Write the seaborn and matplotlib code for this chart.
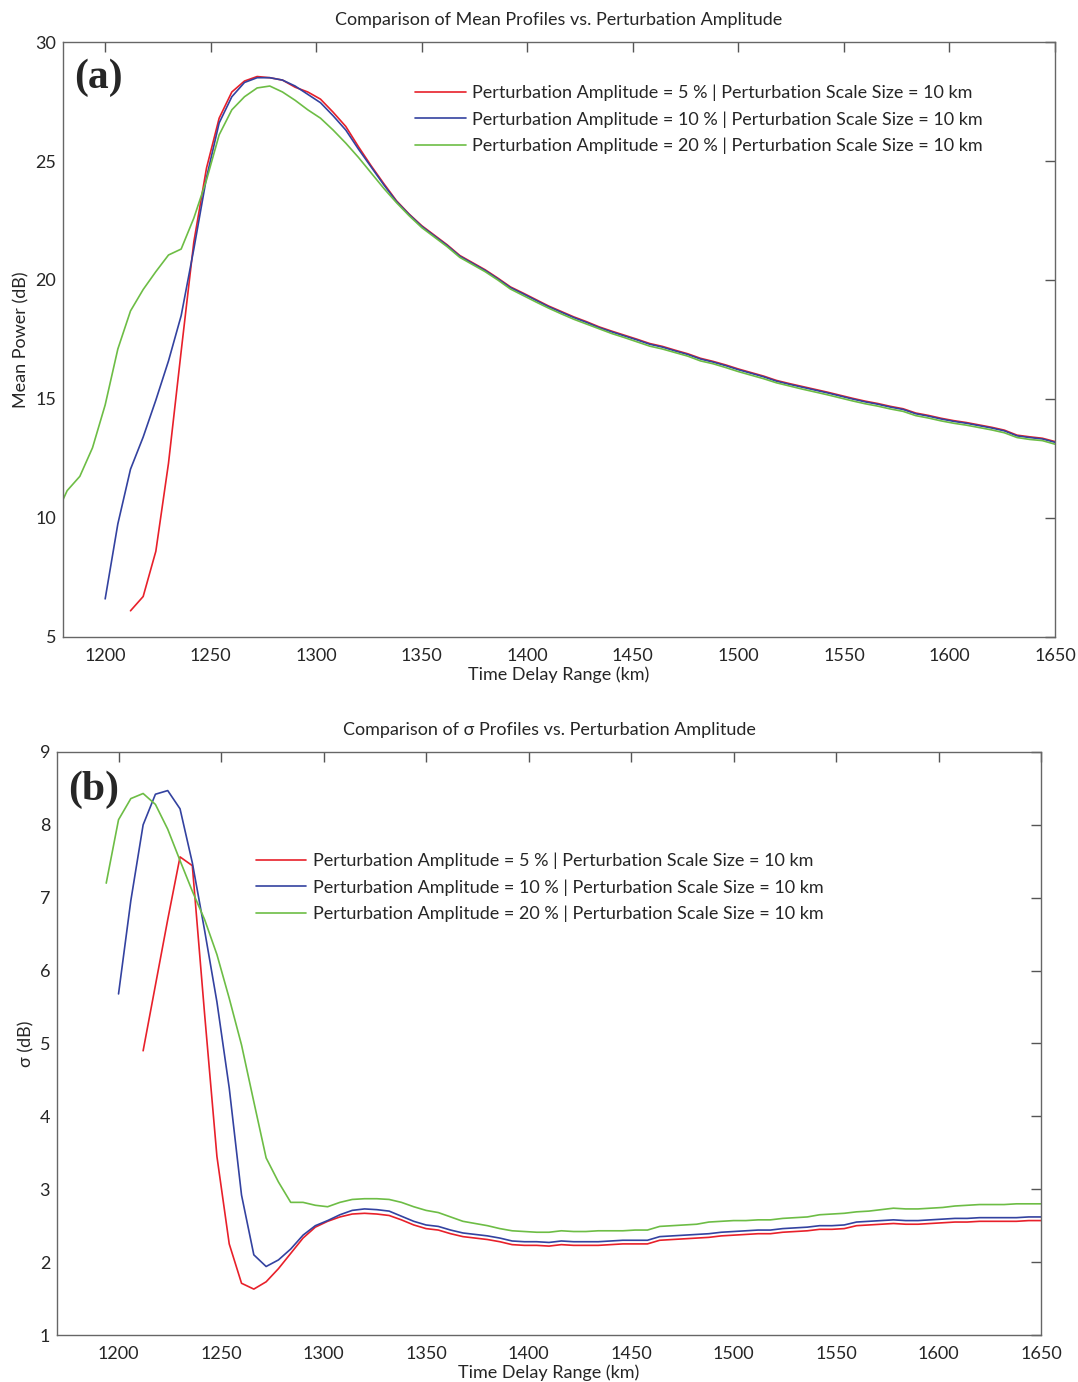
import numpy as np
import pandas as pd
import matplotlib
matplotlib.use("Agg")
import matplotlib.pyplot as plt
import seaborn as sns

# ---------------- data ----------------
STEP = 6  # km between samples
labels = [
    "Perturbation Amplitude = 5 % | Perturbation Scale Size = 10 km",
    "Perturbation Amplitude = 10 % | Perturbation Scale Size = 10 km",
    "Perturbation Amplitude = 20 % | Perturbation Scale Size = 10 km",
]
colors = ["#e8202a", "#3342a0", "#6dbd45"]

# panel (a) mean power (dB)
mean_red_start = 1212
mean_red = [6.1, 6.7, 8.6, 12.3,
            17.0, 21.6, 24.7, 26.8, 27.9, 28.36, 28.55, 28.5, 28.4, 28.1,
            27.9, 27.6, 27.05, 26.45, 25.6, 24.8, 24.05, 23.33, 22.77, 22.28,
            21.88, 21.48, 21.03, 20.73, 20.43, 20.08, 19.71, 19.45, 19.18, 18.91,
            18.68, 18.45, 18.25, 18.03, 17.85, 17.68, 17.51, 17.33, 17.21, 17.05,
            16.9, 16.71, 16.58, 16.43, 16.26, 16.11, 15.96, 15.78, 15.65, 15.53,
            15.41, 15.29, 15.16, 15.03, 14.91, 14.81, 14.69, 14.59, 14.41, 14.31,
            14.19, 14.09, 14.01, 13.91, 13.81, 13.69, 13.48, 13.41, 13.35, 13.21]
mean_blue_start = 1200
mean_blue = [6.6, 9.75, 12.05, 13.4, 14.95, 16.6,
             18.5, 21.3, 24.3, 26.6, 27.7, 28.3, 28.5, 28.5, 28.4, 28.15,
             27.8, 27.45, 26.9, 26.3, 25.5, 24.75, 24.0, 23.3, 22.75, 22.25,
             21.85, 21.45, 21.0, 20.7, 20.4, 20.05, 19.68, 19.42, 19.15, 18.88,
             18.65, 18.42, 18.22, 18.0, 17.82, 17.65, 17.48, 17.3, 17.18, 17.02,
             16.87, 16.68, 16.55, 16.4, 16.23, 16.08, 15.93, 15.75, 15.62, 15.5,
             15.38, 15.26, 15.13, 15.0, 14.88, 14.78, 14.66, 14.56, 14.38, 14.28,
             14.16, 14.06, 13.98, 13.88, 13.78, 13.66, 13.45, 13.38, 13.32, 13.18]
mean_green_start = 1176
mean_green = [10.0, 11.15, 11.75, 12.95, 14.75, 17.1, 18.7, 19.6, 20.35, 21.05,
              21.3, 22.6, 24.2, 26.1, 27.15, 27.7, 28.07, 28.15, 27.9, 27.55,
              27.15, 26.8, 26.3, 25.75, 25.15, 24.5, 23.85, 23.25, 22.7, 22.2,
              21.8, 21.4, 20.95, 20.65, 20.35, 20.0, 19.62, 19.35, 19.08, 18.82,
              18.58, 18.35, 18.15, 17.95, 17.75, 17.58, 17.4, 17.22, 17.1, 16.95,
              16.8, 16.6, 16.48, 16.32, 16.15, 16.0, 15.85, 15.68, 15.55, 15.42,
              15.3, 15.18, 15.05, 14.92, 14.8, 14.7, 14.58, 14.48, 14.3, 14.2,
              14.08, 13.98, 13.9, 13.8, 13.7, 13.58, 13.38, 13.3, 13.25, 13.1]

# panel (b) sigma (dB)
sig_red_start = 1212
sig_red = [4.9, 5.8, 6.7, 7.56,
           7.44, 5.4, 3.45, 2.25, 1.71, 1.63, 1.73, 1.91, 2.12, 2.33,
           2.48, 2.56, 2.62, 2.66, 2.67, 2.66, 2.64, 2.58, 2.51, 2.46,
           2.44, 2.39, 2.35, 2.33, 2.31, 2.28, 2.24, 2.23, 2.23, 2.22,
           2.24, 2.23, 2.23, 2.23, 2.24, 2.25, 2.25, 2.25, 2.3, 2.31,
           2.32, 2.33, 2.34, 2.36, 2.37, 2.38, 2.39, 2.39, 2.41, 2.42,
           2.43, 2.45, 2.45, 2.46, 2.5, 2.51, 2.52, 2.53, 2.52, 2.52,
           2.53, 2.54, 2.55, 2.55, 2.56, 2.56, 2.56, 2.56, 2.57, 2.57]
sig_blue_start = 1200
sig_blue = [5.68, 6.96, 8.0, 8.42, 8.47, 8.22,
            7.48, 6.55, 5.57, 4.39, 2.92, 2.1, 1.94, 2.03, 2.18, 2.37,
            2.5, 2.57, 2.65, 2.71, 2.73, 2.72, 2.7, 2.63, 2.56, 2.51,
            2.49, 2.44, 2.4, 2.38, 2.36, 2.33, 2.29, 2.28, 2.28, 2.27,
            2.29, 2.28, 2.28, 2.28, 2.29, 2.3, 2.3, 2.3, 2.35, 2.36,
            2.37, 2.38, 2.39, 2.41, 2.42, 2.43, 2.44, 2.44, 2.46, 2.47,
            2.48, 2.5, 2.5, 2.51, 2.55, 2.56, 2.57, 2.58, 2.57, 2.57,
            2.58, 2.59, 2.6, 2.6, 2.61, 2.61, 2.61, 2.61, 2.62, 2.62]
sig_green_start = 1194
sig_green = [7.2, 8.07, 8.36, 8.43, 8.28, 7.94, 7.51,
             7.09, 6.7, 6.22, 5.62, 4.98, 4.2, 3.43, 3.1, 2.82, 2.82,
             2.78, 2.76, 2.82, 2.86, 2.87, 2.87, 2.86, 2.82, 2.76, 2.71,
             2.68, 2.62, 2.56, 2.53, 2.5, 2.46, 2.43, 2.42, 2.41, 2.41,
             2.43, 2.42, 2.42, 2.43, 2.43, 2.43, 2.44, 2.44, 2.49, 2.5,
             2.51, 2.52, 2.55, 2.56, 2.57, 2.57, 2.58, 2.58, 2.6, 2.61,
             2.62, 2.65, 2.66, 2.67, 2.69, 2.7, 2.72, 2.74, 2.73, 2.73,
             2.74, 2.75, 2.77, 2.78, 2.79, 2.79, 2.79, 2.8, 2.8, 2.8]

x_ticks = [1200, 1250, 1300, 1350, 1400, 1450, 1500, 1550, 1600, 1650]
mean_yticks = [5, 10, 15, 20, 25, 30]
sig_yticks = [1, 2, 3, 4, 5, 6, 7, 8, 9]


def frame(series):
    parts = []
    for (start, vals), lab in zip(series, labels):
        x = start + STEP * np.arange(len(vals))
        parts.append(pd.DataFrame({"range": x, "value": vals, "case": lab}))
    return pd.concat(parts, ignore_index=True)


df_mean = frame([(mean_red_start, mean_red), (mean_blue_start, mean_blue),
                 (mean_green_start, mean_green)])
df_sig = frame([(sig_red_start, sig_red), (sig_blue_start, sig_blue),
                (sig_green_start, sig_green)])

# ---------------- style ----------------
sns.set_style("white")
plt.rcParams["font.family"] = ["Lato", "DejaVu Sans"]
palette = dict(zip(labels, colors))

fig = plt.figure(figsize=(10.78, 13.82), dpi=100)
ax1 = fig.add_axes([0.0584, 0.5391, 0.9203, 0.4305])
ax2 = fig.add_axes([0.0529, 0.0340, 0.9128, 0.4219])

FS = 13


def style(ax, xlim, ylim, yticks, title, ylabel, tag, tag_y, leg_anchor):
    ax.set_xlim(*xlim)
    ax.set_ylim(*ylim)
    ax.set_xticks(x_ticks)
    ax.set_yticks(yticks)
    ax.tick_params(direction="in", top=True, right=True, length=7, width=1,
                   color="#555555", labelsize=FS, pad=5)
    ax.tick_params(axis="x", pad=8)
    for s in ax.spines.values():
        s.set_color("#666666")
        s.set_linewidth(1.0)
    ax.set_title(title, fontsize=FS, pad=12)
    ax.set_xlabel("Time Delay Range (km)", fontsize=FS, labelpad=2)
    ax.set_ylabel(ylabel, fontsize=FS, labelpad=4)
    ax.text(0.011, tag_y, tag, transform=ax.transAxes, ha="left", va="top",
            fontsize=30, fontweight="bold", family="Liberation Serif")
    sns.move_legend(ax, loc="upper left", bbox_to_anchor=leg_anchor,
                    frameon=False, title=None, fontsize=FS,
                    handlelength=2.8, handletextpad=0.35,
                    labelspacing=0.55, borderpad=0, borderaxespad=0)


sns.lineplot(data=df_mean, x="range", y="value", hue="case", hue_order=labels,
             palette=palette, linewidth=1.2, errorbar=None, sort=True, ax=ax1)
style(ax1, (1180, 1650), (5, 30), mean_yticks,
      "Comparison of Mean Profiles vs. Perturbation Amplitude",
      "Mean Power (dB)", "(a)", 0.972, (0.355, 0.928))

sns.lineplot(data=df_sig, x="range", y="value", hue="case", hue_order=labels,
             palette=palette, linewidth=1.2, errorbar=None, sort=True, ax=ax2)
style(ax2, (1170, 1650), (1, 9), sig_yticks,
      "Comparison of σ Profiles vs. Perturbation Amplitude",
      "σ (dB)", "(b)", 0.968, (0.202, 0.827))

fig.savefig("out.png", dpi=100, facecolor="white")
